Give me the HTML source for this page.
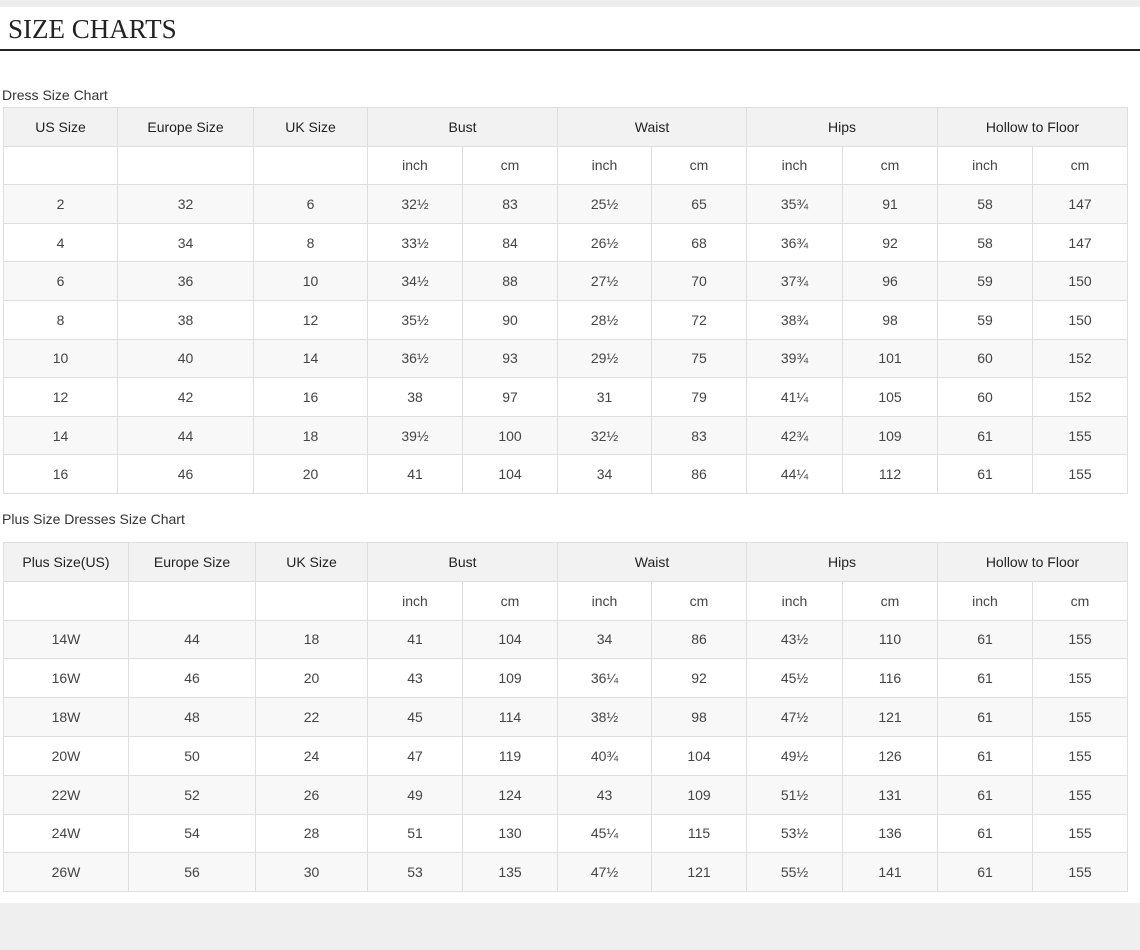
<!DOCTYPE html>
<html><head><meta charset="utf-8"><style>
body{margin:0;width:1140px;height:950px;background:#fff;position:relative;overflow:hidden;font-family:"Liberation Sans",Arial,sans-serif;}
.topband{position:absolute;left:0;top:0;width:1140px;height:7px;background:#ededed;}
.botband{position:absolute;left:0;top:903px;width:1140px;height:47px;background:#efefef;}
.title{position:absolute;left:8px;top:14px;font-family:"Liberation Serif",serif;font-size:27px;color:#222;}
.rule{position:absolute;left:0;top:49px;width:1140px;height:2px;background:#222;}
.cap{position:absolute;left:2px;font-size:14px;color:#333;}
table{position:absolute;left:3px;border-collapse:collapse;table-layout:fixed;}
td{border:1px solid #dedede;text-align:center;font-size:14px;color:#444;padding:0;}
#t1 td{height:37.6px;}
#t2 td{height:37.8px;}
tr.h td{background:#f2f2f2;color:#222;}
tr.g td{background:#f8f8f8;}
</style></head><body>
<div class="topband"></div>
<div class="title">SIZE CHARTS</div>
<div class="rule"></div>
<div class="cap" style="top:87px">Dress Size Chart</div>
<table id="t1" style="top:107px">
<colgroup><col style="width:114px"><col style="width:136px"><col style="width:114px"><col style="width:95px"><col style="width:95px"><col style="width:94px"><col style="width:95px"><col style="width:96px"><col style="width:95px"><col style="width:95px"><col style="width:95px"></colgroup>
<tr class="h"><td>US Size</td><td>Europe Size</td><td>UK Size</td><td colspan="2">Bust</td><td colspan="2">Waist</td><td colspan="2">Hips</td><td colspan="2">Hollow to Floor</td></tr>
<tr><td></td><td></td><td></td><td>inch</td><td>cm</td><td>inch</td><td>cm</td><td>inch</td><td>cm</td><td>inch</td><td>cm</td></tr>
<tr class="g"><td>2</td><td>32</td><td>6</td><td>32½</td><td>83</td><td>25½</td><td>65</td><td>35¾</td><td>91</td><td>58</td><td>147</td></tr>
<tr><td>4</td><td>34</td><td>8</td><td>33½</td><td>84</td><td>26½</td><td>68</td><td>36¾</td><td>92</td><td>58</td><td>147</td></tr>
<tr class="g"><td>6</td><td>36</td><td>10</td><td>34½</td><td>88</td><td>27½</td><td>70</td><td>37¾</td><td>96</td><td>59</td><td>150</td></tr>
<tr><td>8</td><td>38</td><td>12</td><td>35½</td><td>90</td><td>28½</td><td>72</td><td>38¾</td><td>98</td><td>59</td><td>150</td></tr>
<tr class="g"><td>10</td><td>40</td><td>14</td><td>36½</td><td>93</td><td>29½</td><td>75</td><td>39¾</td><td>101</td><td>60</td><td>152</td></tr>
<tr><td>12</td><td>42</td><td>16</td><td>38</td><td>97</td><td>31</td><td>79</td><td>41¼</td><td>105</td><td>60</td><td>152</td></tr>
<tr class="g"><td>14</td><td>44</td><td>18</td><td>39½</td><td>100</td><td>32½</td><td>83</td><td>42¾</td><td>109</td><td>61</td><td>155</td></tr>
<tr><td>16</td><td>46</td><td>20</td><td>41</td><td>104</td><td>34</td><td>86</td><td>44¼</td><td>112</td><td>61</td><td>155</td></tr>
</table>
<div class="cap" style="top:511px">Plus Size Dresses Size Chart</div>
<table id="t2" style="top:542px">
<colgroup><col style="width:125px"><col style="width:127px"><col style="width:112px"><col style="width:95px"><col style="width:95px"><col style="width:94px"><col style="width:95px"><col style="width:96px"><col style="width:95px"><col style="width:95px"><col style="width:95px"></colgroup>
<tr class="h"><td>Plus Size(US)</td><td>Europe Size</td><td>UK Size</td><td colspan="2">Bust</td><td colspan="2">Waist</td><td colspan="2">Hips</td><td colspan="2">Hollow to Floor</td></tr>
<tr><td></td><td></td><td></td><td>inch</td><td>cm</td><td>inch</td><td>cm</td><td>inch</td><td>cm</td><td>inch</td><td>cm</td></tr>
<tr class="g"><td>14W</td><td>44</td><td>18</td><td>41</td><td>104</td><td>34</td><td>86</td><td>43½</td><td>110</td><td>61</td><td>155</td></tr>
<tr><td>16W</td><td>46</td><td>20</td><td>43</td><td>109</td><td>36¼</td><td>92</td><td>45½</td><td>116</td><td>61</td><td>155</td></tr>
<tr class="g"><td>18W</td><td>48</td><td>22</td><td>45</td><td>114</td><td>38½</td><td>98</td><td>47½</td><td>121</td><td>61</td><td>155</td></tr>
<tr><td>20W</td><td>50</td><td>24</td><td>47</td><td>119</td><td>40¾</td><td>104</td><td>49½</td><td>126</td><td>61</td><td>155</td></tr>
<tr class="g"><td>22W</td><td>52</td><td>26</td><td>49</td><td>124</td><td>43</td><td>109</td><td>51½</td><td>131</td><td>61</td><td>155</td></tr>
<tr><td>24W</td><td>54</td><td>28</td><td>51</td><td>130</td><td>45¼</td><td>115</td><td>53½</td><td>136</td><td>61</td><td>155</td></tr>
<tr class="g"><td>26W</td><td>56</td><td>30</td><td>53</td><td>135</td><td>47½</td><td>121</td><td>55½</td><td>141</td><td>61</td><td>155</td></tr>
</table>
<div class="botband"></div>
</body></html>
